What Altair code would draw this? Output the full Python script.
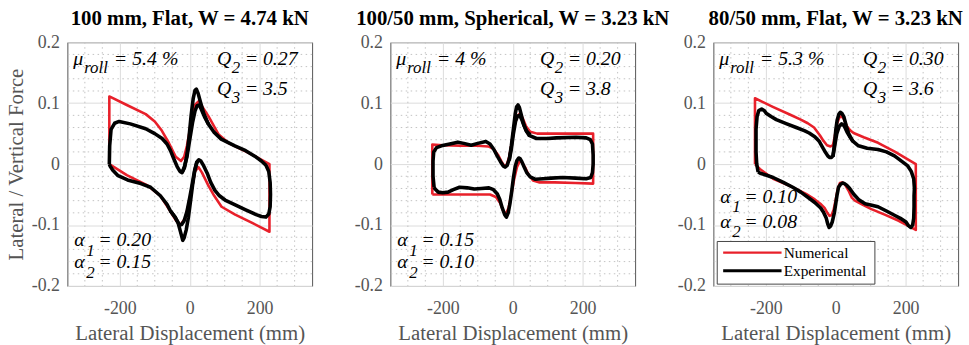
import altair as alt
import pandas as pd

# ---------------------------------------------------------------- styling
FONT = "Liberation Serif"
RED = "#e8202a"
BLACK = "#000000"
AXIS_GRAY = "#555555"
GRID_MAJOR = "#dcdcdc"
GRID_MINOR = "#c2c2c2"

X_DOMAIN = [-350, 350]
Y_DOMAIN = [-0.2, 0.2]

# ---------------------------------------------------------------- axes / grid
X_TICKS = [-200, 0, 200]
Y_TICKS = [-0.2, -0.1, 0.0, 0.1, 0.2]
X_MINOR = [-300, -250, -150, -100, -50, 50, 100, 150, 250, 300]
Y_MINOR = [-0.18, -0.16, -0.14, -0.12, -0.08, -0.06, -0.04, -0.02,
           0.02, 0.04, 0.06, 0.08, 0.12, 0.14, 0.16, 0.18]

# ---------------------------------------------------------------- panel text
TITLES = ["100 mm, Flat, W = 4.74 kN",
          "100/50 mm, Spherical, W = 3.23 kN",
          "80/50 mm, Flat, W = 3.23 kN"]
MU_ROLL = ["5.4 %", "4 %", "5.3 %"]
Q2 = ["0.27", "0.20", "0.30"]
Q3 = ["3.5", "3.8", "3.6"]
ALPHA1 = ["0.20", "0.15", "0.10"]
ALPHA2 = ["0.15", "0.10", "0.08"]
SERIES = ["Numerical", "Experimental"]
SERIES_COLORS = [RED, BLACK]
SERIES_WIDTHS = [2.6, 3.6]

# ---------------------------------------------------------------- panel 1 loops
P1_NUM_X = [-230, -230, -180, -126, -100, -80, -60, -40, -25, -16, -8, 0, 6, 15, 25, 35,
            53, 82, 110, 170, 228, 228, 180, 130, 91, 70, 53, 35, 25, 15, 6, -3, -13,
            -27, -40, -55, -84, -121, -180, -230]
P1_NUM_Y = [0.0, 0.111, 0.097, 0.082, 0.070, 0.055, 0.035, 0.012, 0.005, 0.012, 0.030,
            0.055, 0.084, 0.097, 0.103, 0.095, 0.079, 0.049, 0.035, 0.018, 0.0, -0.111,
            -0.097, -0.083, -0.070, -0.052, -0.035, -0.014, -0.005, -0.012, -0.041,
            -0.065, -0.089, -0.100, -0.092, -0.078, -0.052, -0.035, -0.018, 0.0]

P1_EXP_X = [-230, -229, -225, -215, -202, -170, -126, -100, -79, -65, -55, -45, -36, -28,
            -22, -15, -8, -2, 4, 10, 15, 19, 24, 30, 40, 53, 70, 90, 129, 160, 186, 205,
            218, 226, 230, 231, 230, 226, 218, 205, 190, 160, 130, 101, 85, 72, 60, 50,
            40, 32, 26, 20, 14, 8, 2, -4, -10, -16, -20, -26, -33, -42, -55, -65, -84,
            -112, -140, -178, -205, -220, -228, -230]
P1_EXP_Y = [0.0, 0.030, 0.057, 0.067, 0.070, 0.066, 0.058, 0.050, 0.042, 0.033, 0.022,
            0.008, -0.004, -0.012, -0.014, -0.006, 0.015, 0.045, 0.080, 0.108, 0.121,
            0.123, 0.116, 0.103, 0.083, 0.066, 0.052, 0.041, 0.030, 0.022, 0.013, 0.005,
            -0.002, -0.012, -0.030, -0.050, -0.070, -0.082, -0.087, -0.086, -0.083,
            -0.075, -0.067, -0.059, -0.052, -0.043, -0.030, -0.015, -0.003, 0.005,
            0.007, 0.002, -0.012, -0.035, -0.062, -0.088, -0.108, -0.121, -0.125,
            -0.112, -0.097, -0.087, -0.077, -0.066, -0.052, -0.038, -0.032, -0.026,
            -0.019, -0.010, -0.003, 0.0]
# second cycle: the lower spikes near the origin
P1_EXP2_X = [-22, -15, -8, 0, 8, 15, 21, 27, 33, 42, 53]
P1_EXP2_Y = [-0.014, -0.004, 0.012, 0.040, 0.068, 0.087, 0.096, 0.097, 0.090, 0.078, 0.066]
P1_EXP3_X = [26, 20, 14, 8, 0, -8, -16, -23, -29, -35, -42, -55]
P1_EXP3_Y = [0.007, 0.003, -0.010, -0.030, -0.055, -0.078, -0.093, -0.099, -0.100,
             -0.094, -0.087, -0.077]

# ---------------------------------------------------------------- panel 2 loops
P2_NUM_X = [-230, -230, -200, -150, -100, -70, -55, -42, -32, -24, -18, -10, -3, 4, 12,
            20, 28, 38, 50, 70, 120, 180, 230, 230, 180, 120, 75, 58, 45, 35, 26, 20, 12,
            4, -4, -12, -20, -27, -36, -48, -65, -120, -180, -230]
P2_NUM_Y = [-0.050, 0.032, 0.031, 0.030, 0.030, 0.029, 0.025, 0.015, 0.004, -0.003,
            -0.002, 0.012, 0.035, 0.060, 0.078, 0.083, 0.076, 0.062, 0.053, 0.050,
            0.050, 0.050, 0.050, -0.032, -0.031, -0.030, -0.030, -0.027, -0.017,
            -0.005, 0.003, 0.005, -0.005, -0.025, -0.050, -0.072, -0.082, -0.077,
            -0.064, -0.054, -0.050, -0.050, -0.050, -0.050]

P2_EXP_X = [-225, -228, -228, -226, -218, -204, -180, -157, -140, -119, -100, -77, -65,
            -54, -44, -35, -27, -22, -16, -10, -4, 2, 7, 11, 15, 19, 24, 30, 38, 47, 68,
            100, 125, 181, 210, 222, 228, 230, 230, 228, 223, 210, 180, 143, 110, 87, 65,
            50, 40, 32, 26, 21, 17, 12, 7, 2, -3, -8, -13, -18, -23, -30, -37, -44, -55,
            -68, -90, -110, -130, -152, -170, -185, -200, -213, -222, -225]
P2_EXP_Y = [-0.038, -0.020, 0.005, 0.020, 0.027, 0.030, 0.033, 0.036, 0.034, 0.031,
            0.034, 0.037, 0.033, 0.024, 0.013, 0.004, -0.003, -0.005, -0.002, 0.008,
            0.030, 0.058, 0.082, 0.094, 0.097, 0.093, 0.082, 0.068, 0.055, 0.047, 0.042,
            0.042, 0.043, 0.044, 0.043, 0.040, 0.033, 0.015, 0.0, -0.014, -0.022,
            -0.024, -0.023, -0.022, -0.023, -0.024, -0.025, -0.021, -0.014, -0.004,
            0.004, 0.009, 0.010, 0.006, -0.004, -0.022, -0.045, -0.065, -0.080, -0.087,
            -0.083, -0.072, -0.058, -0.049, -0.042, -0.039, -0.040, -0.041, -0.039,
            -0.038, -0.042, -0.046, -0.047, -0.046, -0.041, -0.038]
P2_EXP2_X = [-10, -4, 2, 8, 14, 20, 26, 33, 40, 50]
P2_EXP2_Y = [0.006, 0.025, 0.050, 0.070, 0.079, 0.080, 0.073, 0.062, 0.054, 0.048]

# ---------------------------------------------------------------- panel 3 loops
P3_NUM_X = [-231, -231, -180, -130, -100, -80, -62, -45, -35, -25, -15, -8, -3, 3, 10,
            16, 23, 32, 42, 51, 80, 121, 170, 229, 229, 180, 140, 102, 75, 55, 46, 36,
            27, 18, 12, 6, 0, -6, -12, -18, -24, -32, -42, -60, -85, -130, -179, -217,
            -231]
P3_NUM_Y = [0.0, 0.108, 0.094, 0.081, 0.073, 0.067, 0.060, 0.047, 0.038, 0.031, 0.029,
            0.031, 0.045, 0.065, 0.076, 0.079, 0.074, 0.062, 0.055, 0.051, 0.044, 0.035,
            0.020, 0.0, -0.108, -0.093, -0.083, -0.074, -0.066, -0.060, -0.055, -0.043,
            -0.034, -0.030, -0.031, -0.040, -0.058, -0.075, -0.084, -0.085, -0.080,
            -0.072, -0.066, -0.058, -0.049, -0.036, -0.024, -0.008, 0.0]

P3_EXP_X = [-222, -226, -228, -228, -225, -220, -212, -205, -198, -185, -170, -140, -113,
            -90, -76, -60, -48, -38, -29, -22, -18, -12, -8, -4, 0, 4, 9, 13, 18, 23, 30,
            37, 48, 65, 90, 121, 145, 168, 190, 206, 216, 223, 225, 224, 224, 223, 220,
            215, 208, 201, 185, 168, 145, 121, 100, 84, 65, 51, 40, 32, 25, 20, 14, 8, 4,
            0, -4, -10, -15, -19, -23, -27, -35, -43, -60, -76, -100, -123, -150, -179,
            -200, -216, -222]
P3_EXP_Y = [-0.013, 0.0, 0.020, 0.057, 0.078, 0.088, 0.0905, 0.088, 0.083, 0.078, 0.073,
            0.066, 0.060, 0.055, 0.051, 0.045, 0.038, 0.028, 0.019, 0.013, 0.011, 0.011,
            0.0135, 0.030, 0.055, 0.072, 0.082, 0.085, 0.083, 0.078, 0.063, 0.050, 0.038,
            0.030, 0.026, 0.024, 0.020, 0.0135, 0.004, -0.003, -0.012, -0.024, -0.040,
            -0.0515, -0.070, -0.089, -0.100, -0.104, -0.101, -0.095, -0.089, -0.084,
            -0.077, -0.070, -0.067, -0.065, -0.058, -0.049, -0.040, -0.035, -0.032,
            -0.031, -0.033, -0.038, -0.050, -0.065, -0.080, -0.095, -0.102, -0.104,
            -0.098, -0.089, -0.079, -0.072, -0.063, -0.056, -0.046, -0.038, -0.030,
            -0.022, -0.018, -0.015, -0.013]
P3_EXP2_X = [-8, -3, 3, 10, 17, 24, 32, 40, 50]
P3_EXP2_Y = [0.012, 0.030, 0.050, 0.062, 0.066, 0.063, 0.053, 0.045, 0.037]

NUMERICAL = [(P1_NUM_X, P1_NUM_Y), (P2_NUM_X, P2_NUM_Y), (P3_NUM_X, P3_NUM_Y)]
EXPERIMENTAL = [
    [(P1_EXP_X, P1_EXP_Y), (P1_EXP2_X, P1_EXP2_Y), (P1_EXP3_X, P1_EXP3_Y)],
    [(P2_EXP_X, P2_EXP_Y), (P2_EXP2_X, P2_EXP2_Y)],
    [(P3_EXP_X, P3_EXP_Y), (P3_EXP2_X, P3_EXP2_Y)],
]

# ---------------------------------------------------------------- label anchors (data units)
MU_ROW_Y, MU_SUB_Y = 0.1626, 0.1496
Q3_ROW_Y, Q3_SUB_Y = 0.1138, 0.1008
ALPHA_ROWS = [(-0.135, -0.1512, -0.1707, -0.187),
              (-0.135, -0.1512, -0.1707, -0.187),
              (-0.0634, -0.078, -0.1057, -0.1203)]
# in-plot legend box (panel 3)
LEGEND_BOX = (-339, 112, -0.197, -0.127)
LEGEND_LINE_X = (-322, -155)
LEGEND_ROW_Y = [-0.1452, -0.1751]
LEGEND_TEXT_X = -149

TICK_LABEL = "datum.value == 0 ? '0' : replace(datum.label, '\u2212', '-')"


def loop_frame(xs, ys, series, path):
    return pd.DataFrame({"x": xs, "y": ys, "series": series, "path": path,
                         "order": list(range(len(xs)))})


def label_frames(i):
    a1, a1s, a2, a2s = ALPHA_ROWS[i]
    main = pd.DataFrame({
        "x": [-333, -217, 78, 157, 78, 157, -330, -262, -330, -262],
        "y": [MU_ROW_Y, MU_ROW_Y, MU_ROW_Y, MU_ROW_Y, Q3_ROW_Y, Q3_ROW_Y, a1, a1, a2, a2],
        "text": ["\u03bc", "= " + MU_ROLL[i], "Q", "= " + Q2[i], "Q", "= " + Q3[i],
                 "\u03b1", "= " + ALPHA1[i], "\u03b1", "= " + ALPHA2[i]],
    })
    sub = pd.DataFrame({
        "x": [-302, 120, 120, -296, -296],
        "y": [MU_SUB_Y, MU_SUB_Y, Q3_SUB_Y, a1s, a2s],
        "text": ["roll", "2", "3", "1", "2"],
    })
    return main, sub


XS = alt.Scale(domain=X_DOMAIN, nice=False, zero=False)
YS = alt.Scale(domain=Y_DOMAIN, nice=False, zero=False)
COLOR_SCALE = alt.Scale(domain=SERIES, range=SERIES_COLORS)


def x_axis():
    return alt.Axis(values=X_TICKS, title="Lateral Displacement (mm)", grid=True,
                    gridColor=GRID_MAJOR, gridWidth=1, ticks=False, domain=False,
                    labelFont=FONT, labelFontSize=18, labelColor=AXIS_GRAY,
                    labelPadding=14, labelExpr=TICK_LABEL,
                    titleFont=FONT, titleFontSize=21, titleFontWeight="normal",
                    titleColor=AXIS_GRAY, titlePadding=5)


def y_axis(with_title):
    kw = dict(values=Y_TICKS, grid=True, gridColor=GRID_MAJOR, gridWidth=1, ticks=False,
              domain=False, labelFont=FONT, labelFontSize=18, labelColor=AXIS_GRAY,
              labelPadding=8, labelExpr=TICK_LABEL,
              titleFont=FONT, titleFontSize=21, titleFontWeight="normal",
              titleColor=AXIS_GRAY, titlePadding=5)
    kw["title"] = "Lateral / Vertical Force" if with_title else None
    return alt.Axis(**kw)


def panel(i):
    xa, ya = x_axis(), y_axis(i == 0)

    def X(f="x"):
        return alt.X(f + ":Q", scale=XS, axis=xa)

    def Y(f="y"):
        return alt.Y(f + ":Q", scale=YS, axis=ya)

    layers = []
    layers.append(alt.Chart(pd.DataFrame({"x": X_MINOR})).mark_rule(
        color=GRID_MINOR, strokeDash=[1.5, 3.5], strokeWidth=1).encode(x=X()))
    layers.append(alt.Chart(pd.DataFrame({"y": Y_MINOR})).mark_rule(
        color=GRID_MINOR, strokeDash=[1.5, 3.5], strokeWidth=1).encode(y=Y()))

    color = alt.Color("series:N", scale=COLOR_SCALE, legend=None)

    nx, ny = NUMERICAL[i]
    layers.append(alt.Chart(loop_frame(nx, ny, SERIES[0], "n")).mark_line(
        strokeWidth=SERIES_WIDTHS[0], strokeJoin="round").encode(
        x=X(), y=Y(), color=color, order="order:Q", detail="path:N"))

    exp_df = pd.concat([loop_frame(ex, ey, SERIES[1], f"e{k}")
                        for k, (ex, ey) in enumerate(EXPERIMENTAL[i])])
    layers.append(alt.Chart(exp_df).mark_line(
        strokeWidth=SERIES_WIDTHS[1], strokeJoin="round").encode(
        x=X(), y=Y(), color=color, order="order:Q", detail="path:N"))

    main, sub = label_frames(i)
    layers.append(alt.Chart(main).mark_text(
        align="left", baseline="alphabetic", font=FONT, fontSize=20, fontStyle="italic",
        color=BLACK).encode(x=X(), y=Y(), text="text:N"))
    layers.append(alt.Chart(sub).mark_text(
        align="left", baseline="alphabetic", font=FONT, fontSize=17, fontStyle="italic",
        color=BLACK).encode(x=X(), y=Y(), text="text:N"))

    # panel heading, centred above the plot frame
    layers.append(alt.Chart(pd.DataFrame({"x": [0], "y": [Y_DOMAIN[1]], "t": [TITLES[i]]}))
                  .mark_text(align="center", baseline="alphabetic", dy=-17, font=FONT,
                             fontSize=21, fontWeight="bold", color=BLACK)
                  .encode(x=X(), y=Y(), text="t:N"))

    if i == 2:
        x0, x1, y0, y1 = LEGEND_BOX
        layers.append(alt.Chart(pd.DataFrame({"x": [x0], "x2": [x1], "y": [y0], "y2": [y1]}))
                      .mark_rect(fill="white", stroke="#444444", strokeWidth=1)
                      .encode(x=X(), x2="x2:Q", y=Y(), y2="y2:Q"))
        leg = pd.DataFrame({"x": [LEGEND_LINE_X[0]] * 2, "x2": [LEGEND_LINE_X[1]] * 2,
                            "y": LEGEND_ROW_Y, "series": SERIES,
                            "tx": [LEGEND_TEXT_X] * 2})
        for k in range(2):
            row = leg.iloc[[k]]
            layers.append(alt.Chart(row).mark_rule(strokeWidth=SERIES_WIDTHS[k] - 0.4)
                          .encode(x=X(), x2="x2:Q", y=Y(), color=color))
        layers.append(alt.Chart(leg).mark_text(
            align="left", baseline="middle", font=FONT, fontSize=15.5,
            color=BLACK).encode(x=X("tx"), y=Y(), text="series:N"))

    return alt.layer(*layers).properties(width=247, height=246)


chart = alt.hconcat(panel(0), panel(1), panel(2), spacing=79, bounds="flush").configure_view(
    stroke="#555555", strokeWidth=1).properties(
    padding={"left": 5, "top": 6, "right": 5, "bottom": 2}, background="white")

chart.save("out.html", embed_options={"renderer": "svg", "actions": False})
